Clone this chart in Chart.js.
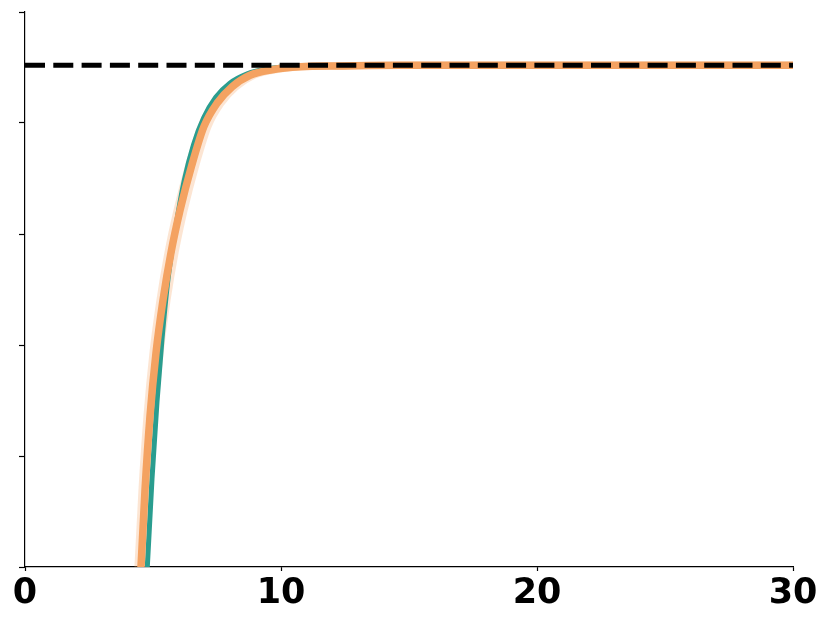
<!DOCTYPE html>
<html>
<head>
<meta charset="utf-8">
<script src="https://cdn.jsdelivr.net/npm/chart.js@4"></script>
<style>
    html, body { margin: 0; padding: 0; background: #ffffff; }
    #chart { display: block; }
</style>
</head>
<body>
<canvas id="chart" width="831" height="627"></canvas>
<script>
// Axis ticks
const xTicks = [0, 10, 20, 30];
const yTicks = [0, 1, 2, 3, 4, 5];

// Target level (dashed line)
const targetX = [0, 30];
const targetY = [4.52, 4.52];

// Teal curve
const tealX = [4.49, 4.777, 4.961, 5.156, 5.352, 5.586, 5.90, 6.22, 6.58, 6.98, 7.45, 8.00, 8.66, 9.42, 10.38, 11.52, 30];
const tealY = [-1.58, 0.0, 0.795, 1.488, 2.053, 2.593, 3.077, 3.482, 3.803, 4.046, 4.232, 4.359, 4.441, 4.486, 4.509, 4.518, 4.52];

// Orange curve (mean)
const orangeX = [4.336, 4.531, 4.688, 4.883, 5.117, 5.391, 5.703, 6.055, 6.523, 6.992, 7.500, 8.086, 8.789, 9.648, 10.742, 12.305, 14.648, 30];
const orangeY = [-1.05, 0.0, 0.695, 1.359, 1.928, 2.405, 2.832, 3.212, 3.626, 3.969, 4.178, 4.326, 4.430, 4.480, 4.507, 4.514, 4.520, 4.52];

// Faint orange spread lines either side of the mean
const lightAX = [4.216, 4.411, 4.568, 4.763, 4.997, 5.271, 5.583, 5.935, 6.403, 6.872, 7.380, 7.966, 8.669, 9.528, 10.622, 12.185, 14.528, 30];
const lightAY = [-1.05, 0.0, 0.695, 1.359, 1.928, 2.405, 2.832, 3.212, 3.626, 3.969, 4.178, 4.326, 4.430, 4.480, 4.507, 4.514, 4.520, 4.52];
const lightBX = [4.496, 4.691, 4.848, 5.043, 5.277, 5.551, 5.863, 6.215, 6.683, 7.152, 7.660, 8.246, 8.949, 9.808, 10.902, 12.465, 14.808, 30];
const lightBY = [-1.05, 0.0, 0.695, 1.359, 1.928, 2.405, 2.832, 3.212, 3.626, 3.969, 4.178, 4.326, 4.430, 4.480, 4.507, 4.514, 4.520, 4.52];

function points(xs, ys) {
    return xs.map((x, i) => ({ x: x, y: ys[i] }));
}

const ctx = document.getElementById('chart').getContext('2d');
const chart = new Chart(ctx, {
    type: 'line',
    data: {
        datasets: [
            {
                data: points(targetX, targetY),
                borderColor: '#000000',
                borderWidth: 5,
                borderDash: [20, 8.3],
                pointRadius: 0,
                order: 0
            },
            {
                data: points(orangeX, orangeY),
                borderColor: '#f4a261',
                borderWidth: 7.5,
                cubicInterpolationMode: 'monotone',
                pointRadius: 0,
                clip: 0,
                order: 1
            },
            {
                data: points(tealX, tealY),
                borderColor: '#2a9d8f',
                borderWidth: 5,
                cubicInterpolationMode: 'monotone',
                pointRadius: 0,
                clip: 0,
                order: 2
            },
            {
                data: points(lightAX, lightAY),
                borderColor: 'rgba(244, 162, 97, 0.28)',
                borderWidth: 7,
                cubicInterpolationMode: 'monotone',
                pointRadius: 0,
                clip: 0,
                order: 3
            },
            {
                data: points(lightBX, lightBY),
                borderColor: 'rgba(244, 162, 97, 0.28)',
                borderWidth: 7,
                cubicInterpolationMode: 'monotone',
                pointRadius: 0,
                clip: 0,
                order: 4
            }
        ]
    },
    options: {
        responsive: false,
        animation: false,
        layout: {
            padding: { top: 12, right: 38, left: 0, bottom: 0 }
        },
        plugins: {
            legend: { display: false },
            tooltip: { enabled: false }
        },
        scales: {
            x: {
                type: 'linear',
                min: xTicks[0],
                max: xTicks[xTicks.length - 1],
                afterBuildTicks: function (scale) {
                    scale.ticks = xTicks.map(v => ({ value: v }));
                },
                afterFit: function (scale) {
                    scale.height = 60;
                },
                grid: {
                    drawOnChartArea: false,
                    tickLength: 4,
                    tickWidth: 1.2,
                    tickColor: '#000000'
                },
                border: { color: '#000000', width: 1.2 },
                ticks: {
                    color: '#000000',
                    padding: 2,
                    maxRotation: 0,
                    font: { family: 'DejaVu Sans', weight: 'bold', size: 35 }
                }
            },
            y: {
                type: 'linear',
                min: yTicks[0],
                max: yTicks[yTicks.length - 1],
                afterBuildTicks: function (scale) {
                    scale.ticks = yTicks.map(v => ({ value: v }));
                },
                afterFit: function (scale) {
                    scale.width = 25;
                },
                grid: {
                    drawOnChartArea: false,
                    tickLength: 6,
                    tickWidth: 1.2,
                    tickColor: '#000000'
                },
                border: { color: '#000000', width: 1.2 },
                ticks: { display: false }
            }
        }
    }
});
</script>
</body>
</html>
